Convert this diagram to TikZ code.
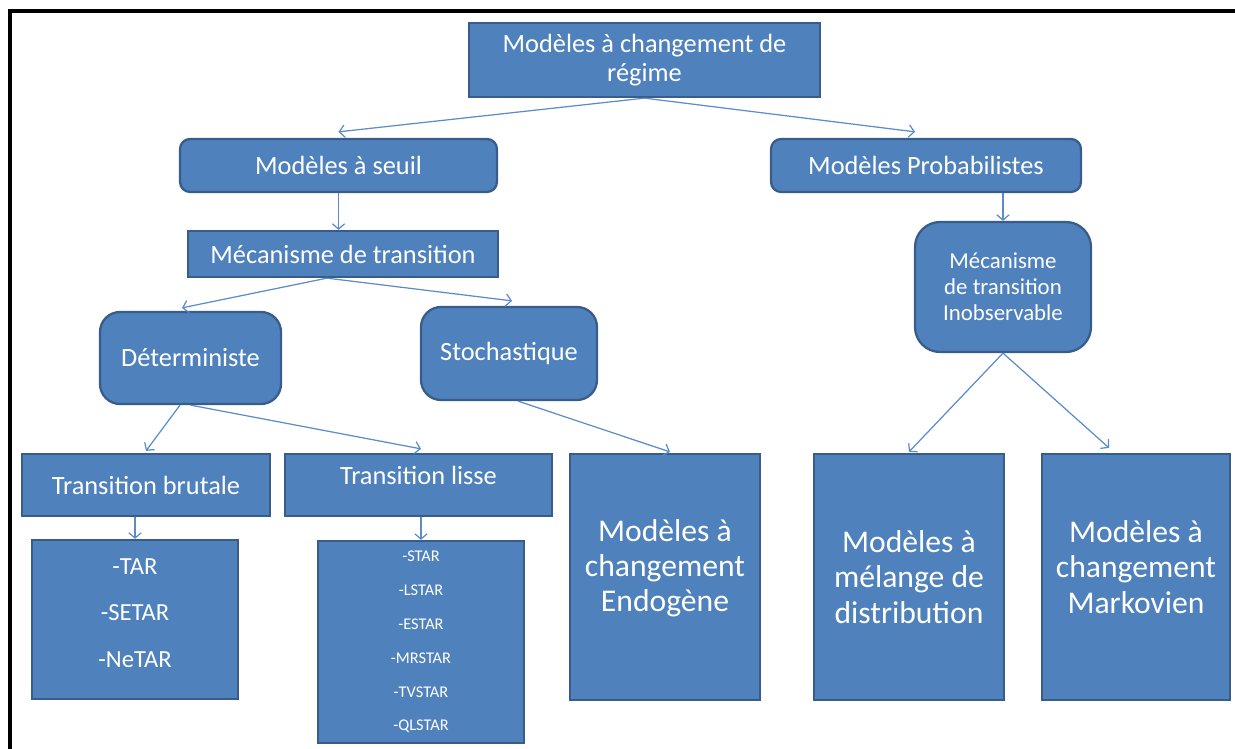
\documentclass[tikz,border=0pt]{standalone}
\usepackage{fontspec}
\setmainfont{Carlito}
\usepackage{xcolor}
\usetikzlibrary{arrows.meta,positioning,calc}
\definecolor{boxfill}{HTML}{4F81BD}
\definecolor{boxline}{HTML}{385D8A}
\definecolor{arrline}{HTML}{5B8CC8}

\begin{document}
\begin{tikzpicture}[x=0.02cm,y=-0.02cm,
  font=\fontsize{15}{16.5}\selectfont,
  box/.style={draw=boxline,line width=1.3pt,fill=boxfill,text=white,align=center,inner sep=2pt},
  rbox/.style={box,rounded corners=0.2cm},
  big/.style={box,font=\fontsize{18}{20}\selectfont,minimum width=3.8cm,minimum height=4.92cm},
  arr/.style={-{Straight Barb[length=3pt,width=7pt]},draw=arrline,line width=0.7pt}]
\useasboundingbox (0,0) rectangle (1235,749);
\draw[line width=2.3pt] (10,749) -- (10,11) -- (1235,11);

\node[box,minimum width=7.02cm,minimum height=1.48cm] (reg) at (644.5,60) {Modèles à changement de\\régime};
\node[rbox,minimum width=6.34cm,minimum height=1.06cm] (seuil) at (338.5,165.5) {Modèles à seuil};
\node[rbox,minimum width=6.2cm,minimum height=1.06cm] (proba) at (926,165.5) {Modèles Probabilistes};
\node[box,minimum width=6.2cm,minimum height=0.92cm] (mecan) at (343,254) {Mécanisme de transition};
\node[box,rounded corners=0.5cm,minimum width=3.52cm,minimum height=2.6cm,font=\fontsize{13}{14.7}\selectfont] (inobs) at (1003,287) {Mécanisme\\de transition\\Inobservable};
\node[box,rounded corners=0.4cm,minimum width=3.62cm,minimum height=1.84cm] (deter) at (190.5,358) {Déterministe};
\node[box,rounded corners=0.4cm,minimum width=3.52cm,minimum height=1.86cm] (stoch) at (509,353.5) {Stochastique};
\node[box,minimum width=4.96cm,minimum height=1.24cm] (brut) at (146,485) {Transition brutale};
\node[box,minimum width=5.34cm,minimum height=1.24cm,text depth=0.4cm] (lisse) at (418.5,485) {Transition lisse};
\node[box,minimum width=4.12cm,minimum height=3.18cm,font=\fontsize{14}{26.6}\selectfont,text depth=0.26cm] (tar) at (135,619.5) {-TAR\\-SETAR\\-NeTAR};
\node[box,minimum width=4.12cm,minimum height=4.04cm,font=\fontsize{9.3}{19.3}\selectfont] (star) at (421,642) {-STAR\\-LSTAR\\-ESTAR\\-MRSTAR\\-TVSTAR\\-QLSTAR};
\node[big,text depth=0.46cm] (endog) at (665,577) {Modèles à\\changement\\Endogène};
\node[big] (melange) at (909,577) {Modèles à\\mélange de\\distribution};
\node[big,minimum width=3.76cm,text depth=0.4cm] (markov) at (1136,577) {Modèles à\\changement\\Markovien};

\draw[arr] (reg.south) -- ([yshift=0.12cm]seuil.north);
\draw[arr] (reg.south) -- ([xshift=-0.22cm,yshift=0.12cm]proba.north);
\draw[arr] (seuil.south) -- (seuil.south |- mecan.north);
\draw[arr] (inobs.north |- proba.south) -- (inobs.north);
\draw[arr] ([xshift=-0.32cm]mecan.south) -- ([xshift=-0.17cm,yshift=0.06cm]deter.north);
\draw[arr] ([xshift=-0.32cm]mecan.south) -- ([xshift=0.06cm,yshift=0.1cm]stoch.north);
\draw[arr] ([xshift=-0.21cm]deter.south) -- ([yshift=0.04cm]brut.north);
\draw[arr] (deter.south) -- ([xshift=0.05cm,yshift=0.08cm]lisse.north);
\draw[arr] ([xshift=0.18cm]stoch.south) -- ([xshift=0.1cm,yshift=0.02cm]endog.north);
\draw[arr] (tar.north |- brut.south) -- (tar.north);
\draw[arr] (star.north |- lisse.south) -- (star.north);
\draw[arr] (inobs.south) -- ([yshift=0.02cm]melange.north);
\draw[arr] (inobs.south) -- ([xshift=-0.54cm,yshift=0.1cm]markov.north);
\end{tikzpicture}
\end{document}
